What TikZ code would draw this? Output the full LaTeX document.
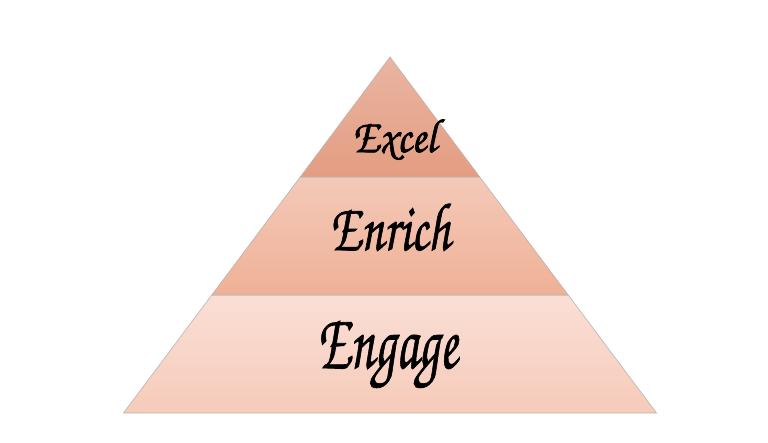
\documentclass[tikz,border=0pt]{standalone}
\usepackage[T1]{fontenc}
\usepackage{graphicx}
\definecolor{tTop}{HTML}{EAB5A2}
\definecolor{tBot}{HTML}{E39D81}
\definecolor{mTop}{HTML}{F4C9B8}
\definecolor{mBot}{HTML}{EFB196}
\definecolor{bTop}{HTML}{FADFD6}
\definecolor{bBot}{HTML}{F6CBBA}
\definecolor{edge}{HTML}{BDB2AE}
\tikzset{
  layer/.style={draw=edge, line width=0.6pt},
  lbl/.style={text=black, inner sep=0pt, anchor=base},
}
\newcommand{\scriptfnt}[1]{\fontfamily{pzc}\fontseries{mb}\fontshape{it}\fontsize{#1}{#1}\selectfont}
\newcommand{\boldtext}[1]{\special{pdf:literal direct 2 Tr 0.6 w}#1\special{pdf:literal direct 0 Tr}}
\begin{document}
\begin{tikzpicture}[x=1pt,y=-1pt]
\useasboundingbox (0,0) rectangle (768,443);
\fill[white] (0,0) rectangle (768,443);
\coordinate (A) at (390,57);
\coordinate (L1) at (300.2,177);
\coordinate (R1) at (479.8,177);
\coordinate (L2) at (211.8,295);
\coordinate (R2) at (568.2,295);
\coordinate (L3) at (123.5,413);
\coordinate (R3) at (656.5,413);
\shade[layer, top color=bTop, bottom color=bBot] (L2) -- (R2) -- (R3) -- (L3) -- cycle;
\shade[layer, top color=mTop, bottom color=mBot] (L1) -- (R1) -- (R2) -- (L2) -- cycle;
\shade[layer, top color=tTop, bottom color=tBot] (A) -- (R1) -- (L1) -- cycle;
\node[lbl] (excel) at (394.5,152) {\scriptfnt{40}\scalebox{1.07}[1.2]{\boldtext{Excel}}};
\node[lbl] (enrich) at (390,250) {\scriptfnt{56}\scalebox{0.89}[1.22]{\boldtext{Enrich}}};
\node[lbl] (engage) at (387.5,368) {\scriptfnt{62}\scalebox{0.85}[1.3]{\boldtext{Engage}}};
\end{tikzpicture}
\end{document}
